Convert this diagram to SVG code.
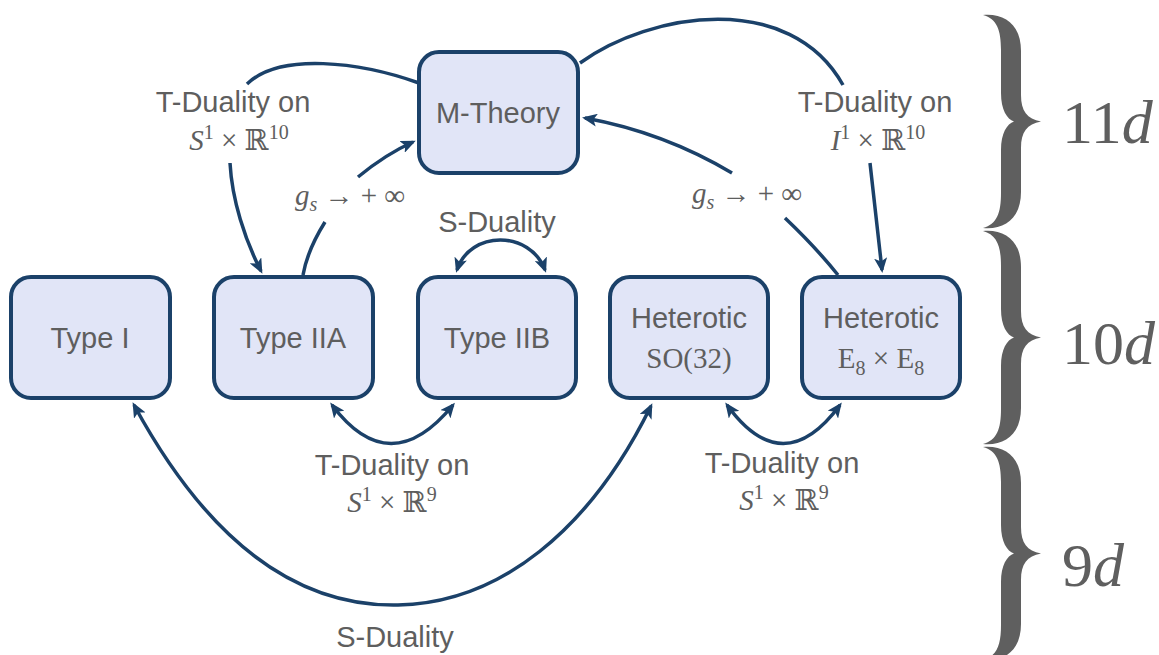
<svg xmlns="http://www.w3.org/2000/svg" width="1159" height="655" viewBox="0 0 1159 655">
<style>
.box{fill:#e1e5f7;stroke:#1b4169;stroke-width:4}
.lbl{font-family:"Liberation Sans",Arial,sans-serif;font-size:29px;fill:#5e5e5e;text-anchor:middle}
.math{font-family:"Liberation Serif","DejaVu Serif",serif;font-size:29px;fill:#5e5e5e;text-anchor:middle}
.conn{fill:none;stroke:#1b4169;stroke-width:3.5}
.dim{font-family:"Liberation Serif","DejaVu Serif",serif;font-size:62px;fill:#5f5f5f}
.brace{fill:#5f5f5f}
</style>
<defs>
<marker id="ah" viewBox="0 0 15 13" refX="12" refY="6.5" markerWidth="15" markerHeight="13" markerUnits="userSpaceOnUse" orient="auto-start-reverse">
<path d="M0,0 L15,6.5 L0,13 L3.5,6.5 Z" fill="#1b4169"/>
</marker>
<path id="br" d="M 0 0 C 22 -2, 38 10, 38 36 L 38 80 C 38 96, 44 104, 58 106.5 C 44 109, 38 117, 38 133 L 38 177 C 38 203, 22 215, 0 213 C 14 209, 18 198, 18 178 L 18 135 C 18 118, 24 109, 31 106.5 C 24 104, 18 95, 18 78 L 18 35 C 18 15, 14 4, 0 0 Z"/>
</defs>

<g id="connectors">
<path class="conn" d="M 419 83 C 360 62, 280 52, 247 84 M 230 163 C 232 200, 245 240, 261 271" marker-end="url(#ah)"/>
<path class="conn" d="M 303 275 C 306 258, 315 238, 325 222 M 358 177 C 375 163, 395 150, 413 142" marker-end="url(#ah)"/>
<path class="conn" d="M 838 275 C 822 255, 805 237, 785 218 M 732 173 C 690 148, 640 128, 585 118" marker-end="url(#ah)"/>
<path class="conn" d="M 580 63 C 650 12, 790 -10, 843 85 M 870 163 C 874 200, 878 235, 882 270" marker-end="url(#ah)"/>
<path class="conn" d="M 457 270 C 470 230, 530 230, 545 270" marker-start="url(#ah)" marker-end="url(#ah)"/>
<path class="conn" d="M 332 405 Q 390 482 453 405" marker-start="url(#ah)" marker-end="url(#ah)"/>
<path class="conn" d="M 727 405 Q 783 482 840 405" marker-start="url(#ah)" marker-end="url(#ah)"/>
<path class="conn" d="M 134 405 C 210 545, 300 607, 398 605 C 500 603, 590 530, 651 406" marker-start="url(#ah)" marker-end="url(#ah)"/>
</g>

<g id="labels">
<text class="lbl" x="233" y="112">T-Duality on</text>
<text class="math" x="239" y="150"><tspan font-style="italic">S</tspan><tspan dy="-11" font-size="20">1</tspan><tspan dy="11"> × ℝ</tspan><tspan dy="-11" font-size="20">10</tspan></text>
<text class="math" x="350" y="205"><tspan font-style="italic">g</tspan><tspan dy="6" font-size="20" font-style="italic">s</tspan><tspan dy="-6"> → + ∞</tspan></text>
<text class="lbl" x="497" y="232">S-Duality</text>
<text class="math" x="747" y="203"><tspan font-style="italic">g</tspan><tspan dy="6" font-size="20" font-style="italic">s</tspan><tspan dy="-6"> → + ∞</tspan></text>
<text class="lbl" x="875" y="112">T-Duality on</text>
<text class="math" x="878" y="150"><tspan font-style="italic">I</tspan><tspan dy="-11" font-size="20">1</tspan><tspan dy="11"> × ℝ</tspan><tspan dy="-11" font-size="20">10</tspan></text>
<text class="lbl" x="392" y="475">T-Duality on</text>
<text class="math" x="392" y="512"><tspan font-style="italic">S</tspan><tspan dy="-11" font-size="20">1</tspan><tspan dy="11"> × ℝ</tspan><tspan dy="-11" font-size="20">9</tspan></text>
<text class="lbl" x="782" y="473">T-Duality on</text>
<text class="math" x="784" y="510"><tspan font-style="italic">S</tspan><tspan dy="-11" font-size="20">1</tspan><tspan dy="11"> × ℝ</tspan><tspan dy="-11" font-size="20">9</tspan></text>
<text class="lbl" x="395" y="647">S-Duality</text>
</g>

<g id="node-mtheory">
<rect class="box" x="419" y="52" width="159" height="121" rx="20"/>
<text class="lbl" x="498" y="123">M-Theory</text>
</g>
<g id="node-type1">
<rect class="box" x="11" y="277" width="159" height="121" rx="20"/>
<text class="lbl" x="90" y="348">Type I</text>
</g>
<g id="node-type2a">
<rect class="box" x="214" y="277" width="159" height="121" rx="20"/>
<text class="lbl" x="293" y="348">Type IIA</text>
</g>
<g id="node-type2b">
<rect class="box" x="418" y="277" width="158" height="121" rx="20"/>
<text class="lbl" x="497" y="348">Type IIB</text>
</g>
<g id="node-hso32">
<rect class="box" x="610" y="277" width="158" height="121" rx="20"/>
<text class="lbl" x="689" y="328">Heterotic</text>
<text class="math" x="689" y="368">SO(32)</text>
</g>
<g id="node-he8e8">
<rect class="box" x="802" y="277" width="158" height="121" rx="20"/>
<text class="lbl" x="881" y="328">Heterotic</text>
<text class="math" x="881" y="368">E<tspan dy="7" font-size="20">8</tspan><tspan dy="-7"> × E</tspan><tspan dy="7" font-size="20">8</tspan></text>
</g>

<g id="dimensions">
<use href="#br" class="brace" transform="translate(983,15)"/>
<use href="#br" class="brace" transform="translate(983,231)"/>
<use href="#br" class="brace" transform="translate(983,447)"/>
<text class="dim" x="1062" y="143">11<tspan font-style="italic">d</tspan></text>
<text class="dim" x="1062" y="364">10<tspan font-style="italic">d</tspan></text>
<text class="dim" x="1062" y="586">9<tspan font-style="italic">d</tspan></text>
</g>
</svg>
